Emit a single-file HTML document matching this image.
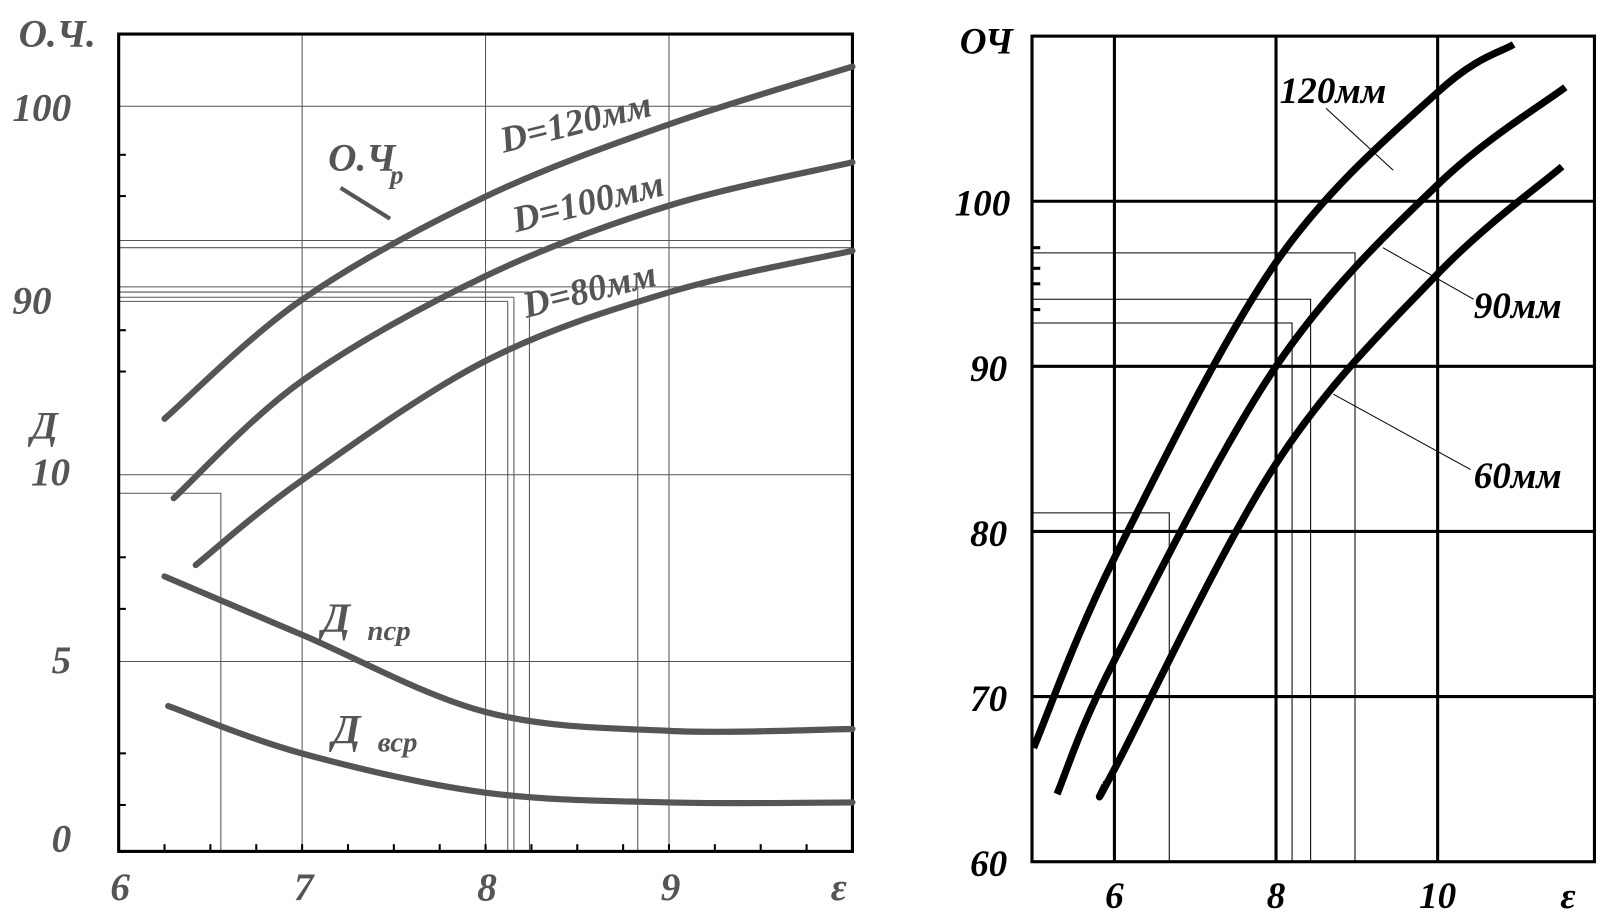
<!DOCTYPE html>
<html><head><meta charset="utf-8"><style>
html,body{margin:0;padding:0;background:#fff;}
svg{display:block;}
text{font-family:"Liberation Serif",serif;font-style:italic;font-weight:bold;}
</style></head><body>
<svg id="chart" width="1620" height="919" viewBox="0 0 1620 919">
<g transform="scale(1.032)">
<g id="left"></g>
<g id="right"></g>
</g>
</svg>
<script>
// ---- Left chart data ----
const leftEps = [6.25, 7, 8, 9, 10];
const och120 = [82.7, 89.3, 95.0, 99.0, 102.2];
const och100Eps = [6.3, 7, 8, 9, 10];
const och100 = [78.3, 84.8, 90.6, 94.5, 96.9];
const och80Eps = [6.42, 7, 8, 9, 10];
const och80 = [74.6, 79.3, 85.9, 89.7, 92.0];
const dpEps = [6.25, 7, 8, 9, 10];
const dpcr = [7.3, 5.75, 3.7, 3.2, 3.25];
const dvEps = [6.27, 7, 8, 9, 10];
const dvcr = [3.86, 2.6, 1.56, 1.3, 1.3];
const leftXTicks = ["6", "7", "8", "9"];
// ---- Right chart data ----
const r120Eps = [5.0, 6, 8, 10, 10.94];
const r120 = [66.9, 78.4, 96.3, 106.6, 109.5];
const r90Eps = [5.29, 6, 8, 10, 11.58];
const r90 = [64.1, 72.2, 90, 101, 106.9];
const r60Eps = [5.89, 6, 8, 10, 11.54];
const r60 = [64.7, 65.6, 84.1, 95.6, 102.1];
const rightXTicks = [6, 8, 10];
const rightYTicks = [60, 70, 80, 90, 100];

const NS = "http://www.w3.org/2000/svg";
function mk(parent, tag, attrs, name, txt) {
  const e = document.createElementNS(NS, tag);
  for (const k in attrs) e.setAttribute(k, attrs[k]);
  
  
  if (txt !== undefined) e.textContent = txt;
  parent.appendChild(e);
  return e;
}
function smooth(pts) {
  let d = "M" + pts[0][0] + "," + pts[0][1];
  for (let i = 0; i < pts.length - 1; i++) {
    const p0 = pts[Math.max(0, i - 1)], p1 = pts[i], p2 = pts[i + 1], p3 = pts[Math.min(pts.length - 1, i + 2)];
    const c1x = p1[0] + (p2[0] - p0[0]) / 6, c1y = p1[1] + (p2[1] - p0[1]) / 6;
    const c2x = p2[0] - (p3[0] - p1[0]) / 6, c2y = p2[1] - (p3[1] - p1[1]) / 6;
    d += " C" + c1x + "," + c1y + " " + c2x + "," + c2y + " " + p2[0] + "," + p2[1];
  }
  return d;
}
const L = document.getElementById('left');
const lx = e => 115 + (e - 6) * 177.75;
const ly = v => 278 - (v - 90) * 17.5;
const ld = v => 825 - v * 36.5;
const G = "#555";
[103, 278, 460, 641].forEach(y => mk(L, 'line', {x1:115, y1:y, x2:826, y2:y, stroke:G, 'stroke-width':1}, 'left-h-grid'));
[7, 8, 9].forEach(e => mk(L, 'line', {x1:lx(e), y1:33, x2:lx(e), y2:825, stroke:G, 'stroke-width':1}, 'left-v-grid'));
[[233,826],[240,826],[283,513],[288,498],[292,492]].forEach(a => mk(L,'line',{x1:115,y1:a[0],x2:a[1],y2:a[0],stroke:G,'stroke-width':1},'left-ref-line'));
[[513,283],[498,288],[492,292],[618,278]].forEach(a => mk(L,'line',{x1:a[0],y1:a[1],x2:a[0],y2:825,stroke:G,'stroke-width':1},'left-ref-line'));
mk(L,'polyline',{points:"115,478 214,478 214,825",fill:"none",stroke:G,'stroke-width':1},'left-ref-line');
mk(L,'rect',{x:115,y:33,width:711,height:792,fill:"none",stroke:"#000",'stroke-width':3},'left-frame');
for (let i=0;i<16;i++){ const e=6+i*0.25; mk(L,'line',{x1:lx(e),y1:825,x2:lx(e),y2:818,stroke:"#000",'stroke-width':2},'left-x-tick'); }
[150,190,320,360,540,590,730,780].forEach(y=>mk(L,'line',{x1:115,y1:y,x2:122,y2:y,stroke:"#000",'stroke-width':2},'left-y-tick'));
function lcurve(es, vs, f, name) {
  mk(L,'path',{d:smooth(es.map((e,i)=>[lx(e),f(vs[i])])),fill:"none",stroke:G,'stroke-width':6,'stroke-linecap':'round'},name);
}
lcurve(leftEps, och120, ly, 'curve-d120');
lcurve(och100Eps, och100, ly, 'curve-d100');
lcurve(och80Eps, och80, ly, 'curve-d80');
lcurve(dpEps, dpcr, ld, 'curve-d-pcr');
lcurve(dvEps, dvcr, ld, 'curve-d-vcr');
const lt = {fill:G,'font-size':38};
leftXTicks.forEach(t => mk(L,'text',Object.assign({x:lx(+t)-8,y:872},lt),'left-x-tick-label',t));
mk(L,'text',Object.assign({x:805,y:872},lt),'left-x-axis-title','ε');
[["100",103],["90",290]].forEach(a=>mk(L,'text',Object.assign({x:12,y:a[1]+14},lt),'left-y-label',a[0]));
[["10",470],["5",652],["0",825]].forEach(a=>mk(L,'text',Object.assign({x:a[0].length>1?30:50,y:a[1]},lt),'left-y-label-d',a[0]));
mk(L,'text',Object.assign({x:18,y:45},lt),'left-y-axis-title','О.Ч.');
mk(L,'text',Object.assign({x:30,y:425},lt),'left-d-axis-title','Д');
mk(L,'text',{x:318,y:165,fill:G,'font-size':38},'label-och-p','О.Ч');
mk(L,'text',{x:378,y:178,fill:G,'font-size':26},'label-och-p-sub','р');
mk(L,'line',{x1:330,y1:182,x2:378,y2:212,stroke:G,'stroke-width':4},'label-och-p-leader');
mk(L,'text',{x:488,y:148,fill:G,'font-size':36,transform:'rotate(-14 488 148)'},'label-d120','D=120мм');
mk(L,'text',{x:500,y:225,fill:G,'font-size':36,transform:'rotate(-14 500 225)'},'label-d100','D=100мм');
mk(L,'text',{x:510,y:308,fill:G,'font-size':36,transform:'rotate(-14 510 308)'},'label-d80','D=80мм');
mk(L,'text',{x:312,y:612,fill:G,'font-size':40},'label-d-pcr','Д');
mk(L,'text',{x:356,y:620,fill:G,'font-size':28},'label-d-pcr-sub','пср');
mk(L,'text',{x:322,y:720,fill:G,'font-size':40},'label-d-vcr','Д');
mk(L,'text',{x:366,y:728,fill:G,'font-size':28},'label-d-vcr-sub','вср');

const R = document.getElementById('right');
const rx = e => 1000 + (e - 4.98) * 78.3;
const ry = v => 835 - (v - 60) * 16;
[100,90,80,70].forEach(v=>mk(R,'line',{x1:1000,y1:ry(v),x2:1545,y2:ry(v),stroke:"#000",'stroke-width':3},'right-h-grid'));
rightXTicks.forEach(e=>mk(R,'line',{x1:rx(e),y1:35,x2:rx(e),y2:835,stroke:"#000",'stroke-width':3},'right-v-grid'));
[[245,1313],[290,1270],[313,1252],[497,1133]].forEach(a=>{
  mk(R,'polyline',{points:`1000,${a[0]} ${a[1]},${a[0]} ${a[1]},835`,fill:"none",stroke:"#000",'stroke-width':1},'right-ref-line');
});
mk(R,'rect',{x:1000,y:35,width:545,height:800,fill:"none",stroke:"#000",'stroke-width':3},'right-frame');
[240,260,275,300].forEach(y=>mk(R,'line',{x1:1000,y1:y,x2:1008,y2:y,stroke:"#000",'stroke-width':3},'right-y-tick'));
function rcurve(es, vs, name){
  mk(R,'path',{d:smooth(es.map((e,i)=>[rx(e),ry(vs[i])])),fill:"none",stroke:"#000",'stroke-width':7,'stroke-linecap':'butt'},name);
}
rcurve(r120Eps, r120, 'curve-120mm');
rcurve(r90Eps, r90, 'curve-90mm');
rcurve(r60Eps, r60, 'curve-60mm');
const rt = {fill:"#000",'font-size':36,'font-weight':'normal'};
rightXTicks.forEach(e=>mk(R,'text',Object.assign({x:rx(e)-(e>=10?18:9),y:880},rt),'right-x-tick-label',String(e)));
mk(R,'text',Object.assign({x:1512,y:880},rt),'right-x-axis-title','ε');
rightYTicks.forEach(v=>mk(R,'text',Object.assign({x:v>=100?925:940,y:ry(v)+14},rt),'right-y-tick-label',String(v)));
mk(R,'text',Object.assign({x:930,y:52},rt),'right-y-axis-title','ОЧ');
mk(R,'text',{x:1240,y:100,fill:"#000",'font-size':36},'label-120mm','120мм');
mk(R,'line',{x1:1285,y1:105,x2:1350,y2:165,stroke:"#000",'stroke-width':1},'leader-120mm');
mk(R,'text',{x:1428,y:308,fill:"#000",'font-size':36},'label-90mm','90мм');
mk(R,'line',{x1:1340,y1:240,x2:1428,y2:290,stroke:"#000",'stroke-width':1},'leader-90mm');
mk(R,'text',{x:1428,y:473,fill:"#000",'font-size':36},'label-60mm','60мм');
mk(R,'line',{x1:1292,y1:382,x2:1425,y2:455,stroke:"#000",'stroke-width':1},'leader-60mm');
</script>
</body></html>
